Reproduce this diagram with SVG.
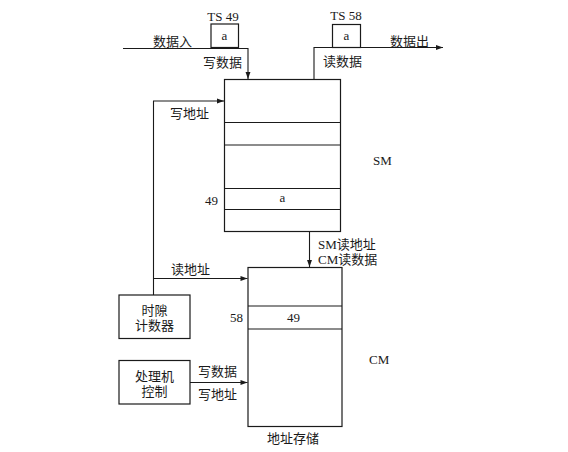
<svg xmlns="http://www.w3.org/2000/svg" width="568" height="452" viewBox="0 0 568 452">
<style>
.ln{fill:none;stroke:#1a1a1a;stroke-width:1.1}
.bx{fill:#fff;stroke:#1a1a1a;stroke-width:1.2}
text{font-family:"Liberation Serif","Noto Sans CJK SC",serif;font-size:13px;fill:#1a1a1a;dominant-baseline:central}
.c{text-anchor:middle}
</style>
<defs>
<marker id="ar" viewBox="0 0 10 10" refX="10" refY="5" markerWidth="9" markerHeight="7" markerUnits="userSpaceOnUse" orient="auto">
<path d="M0,1.5 L10,5 L0,8.5 Z" fill="#1a1a1a"/>
</marker>
</defs>
<rect width="568" height="452" fill="#fff"/>
<g id="connectors">
<path class="ln" d="M123,48.5 H248 V79" marker-end="url(#ar)"/>
<path class="ln" d="M314,79 V47.5 H443" marker-end="url(#ar)"/>
<path class="ln" d="M153.5,295 V101 H224" marker-end="url(#ar)"/>
<path class="ln" d="M153.5,278.5 H247.5" marker-end="url(#ar)"/>
<path class="ln" d="M309.5,232 V267" marker-end="url(#ar)"/>
<path class="ln" d="M190,382.5 H247.5" marker-end="url(#ar)"/>
<text x="153" y="41">数据入</text>
<text x="203" y="62">写数据</text>
<text x="390" y="41.5">数据出</text>
<text x="323" y="61">读数据</text>
<text x="170" y="113">写地址</text>
<text x="171" y="269">读地址</text>
<text x="318" y="244">SM读地址</text>
<text x="318" y="259">CM读数据</text>
<text x="198" y="371.5">写数据</text>
<text x="198" y="394">写地址</text>
</g>
<g id="ts49">
<text class="c" x="223" y="16">TS 49</text>
<rect class="bx" x="211" y="24" width="27.5" height="23.5"/>
<text class="c" x="224.5" y="35">a</text>
</g>
<g id="ts58">
<text class="c" x="346" y="15.5">TS 58</text>
<rect class="bx" x="332.5" y="24.5" width="28" height="23"/>
<text class="c" x="346.5" y="35">a</text>
</g>
<g id="sm">
<rect class="bx" x="224.5" y="79.5" width="116" height="152"/>
<path class="ln" d="M224.5,122.5 H340.5 M224.5,145 H340.5 M224.5,188.5 H340.5 M224.5,209.5 H340.5"/>
<text class="c" x="282.5" y="197">a</text>
<text x="205" y="200">49</text>
<text x="373" y="160">SM</text>
</g>
<g id="cm">
<rect class="bx" x="248" y="267.5" width="94" height="159"/>
<path class="ln" d="M248,306 H342 M248,329 H342"/>
<text class="c" x="293.5" y="317">49</text>
<text x="230" y="317">58</text>
<text x="369" y="359">CM</text>
<text class="c" x="293" y="438">地址存储</text>
</g>
<g id="timer">
<rect class="bx" x="119" y="295" width="71" height="43.5"/>
<text class="c" x="154.5" y="310">时隙</text>
<text class="c" x="154.5" y="325">计数器</text>
</g>
<g id="cpu">
<rect class="bx" x="119" y="360.5" width="71" height="43.5"/>
<text class="c" x="154.5" y="376">处理机</text>
<text class="c" x="154.5" y="391">控制</text>
</g>
</svg>
